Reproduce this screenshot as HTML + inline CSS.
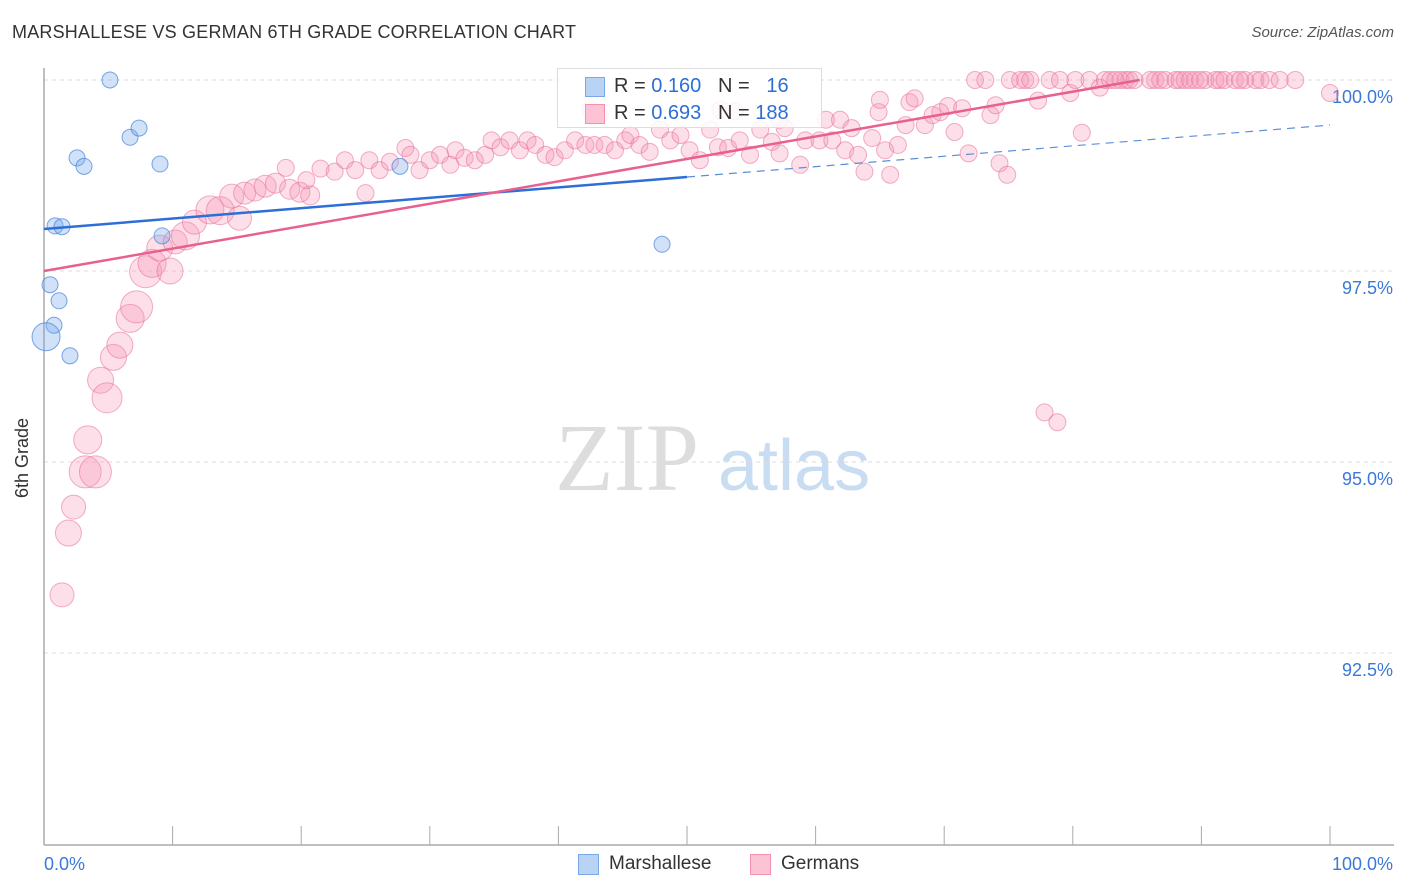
<!DOCTYPE html>
<html><head><meta charset="utf-8"><style>
body{margin:0;background:#fff;font-family:"Liberation Sans",sans-serif;}
#wrap{position:relative;width:1406px;height:892px;overflow:hidden;}
.t{position:absolute;white-space:nowrap;}
</style></head><body>
<div id="wrap">
<div class="t" style="left:12px;top:22px;font-size:18px;color:#333;letter-spacing:0.2px">MARSHALLESE VS GERMAN 6TH GRADE CORRELATION CHART</div>
<div class="t" style="right:12px;top:24px;font-size:15px;color:#555;font-style:italic">Source: ZipAtlas.com</div>
<svg id="svg" width="1406" height="892" style="position:absolute;left:0;top:0">
<text x="555" y="490" font-family="Liberation Serif,serif" font-size="96" fill="#ddd">ZIP</text>
<text x="718" y="490" font-family="Liberation Sans,sans-serif" font-size="72" fill="#c8dcf2">atlas</text>
<g id="grid"></g><g id="axes"></g><g id="pts"></g><g id="lines"></g>
<text x="28" y="458" transform="rotate(-90 28 458)" text-anchor="middle" font-size="18" fill="#333">6th Grade</text>
</svg>
<div style="position:absolute;left:557px;top:68px;width:263px;height:58px;border:1px solid #ddd;background:rgba(255,255,255,0.85);font-size:20px">
<div style="position:absolute;left:27px;top:8px;width:18px;height:18px;background:#b9d3f5;border:1px solid #7aa8e6"></div>
<div class="t" style="left:56px;top:6px;color:#333">R = <span style="color:#2d6fd6">0.160</span>&nbsp;&nbsp;&nbsp;N = &nbsp;&nbsp;<span style="color:#2d6fd6">16</span></div>
<div style="position:absolute;left:27px;top:35px;width:18px;height:18px;background:#fbc3d4;border:1px solid #f291b0"></div>
<div class="t" style="left:56px;top:33px;color:#333">R = <span style="color:#2d6fd6">0.693</span>&nbsp;&nbsp;&nbsp;N = <span style="color:#2d6fd6">188</span></div>
</div>
<div style="position:absolute;left:578px;top:854px;width:19px;height:19px;background:#b9d3f5;border:1px solid #7aa8e6"></div>
<div class="t" style="left:609px;top:853px;font-size:19px;color:#333">Marshallese</div>
<div style="position:absolute;left:750px;top:854px;width:19px;height:19px;background:#fbc3d4;border:1px solid #f291b0"></div>
<div class="t" style="left:781px;top:853px;font-size:19px;color:#333">Germans</div>
</div>
<script>
const yTicks=[100,97.5,95,92.5];
const yTickLabels=["100.0%","97.5%","95.0%","92.5%"];
const xTickLabels=["0.0%","100.0%"];
const blueX=[5.13,6.69,7.39,9.02,2.57,3.11,0.86,1.40,9.18,27.68,48.06,0.47,1.17,0.78,0.16,2.02];
const blueY=[100,99.25,99.37,98.90,98.98,98.87,98.09,98.08,97.96,98.87,97.85,97.32,97.11,96.79,96.64,96.39];
const blueSize=[8,8,8,8,8,8,8,8,8,8,8,8,8,8,14,8];
const pinkX=[1.4,1.9,2.3,3.4,3.2,4.0,4.4,4.9,5.4,5.9,6.7,7.2,7.9,8.4,9.8,9.0,10.2,11.0,11.7,12.9,13.7,15.2,14.6,15.6,16.4,17.2,18.0,19.1,19.9,20.7,18.8,20.4,21.5,22.6,23.4,24.2,25.0,25.3,26.1,26.9,28.1,28.5,29.2,30.0,30.8,31.6,32.0,32.7,33.5,34.3,34.8,35.5,36.2,37.0,37.6,38.2,39.0,39.7,40.5,41.3,42.1,42.8,43.6,44.4,45.2,45.6,46.3,47.1,47.9,48.7,49.5,50.2,51.0,51.8,52.4,53.2,53.7,54.1,54.9,55.7,56.6,57.2,57.6,58.8,59.2,60.3,60.8,61.3,61.9,62.3,62.8,63.3,63.8,64.4,64.9,65.4,65.8,66.4,67.0,67.3,67.7,68.5,69.1,69.7,70.3,70.8,71.4,71.9,72.4,73.2,73.6,74.0,74.3,75.1,75.9,76.3,76.7,77.3,78.2,79.0,79.8,80.2,80.7,81.3,82.1,82.5,82.9,83.7,84.1,84.4,84.8,86.0,86.4,86.8,87.2,88.0,88.3,88.7,89.1,89.5,90.3,91.1,91.4,91.8,92.6,93.4,94.2,94.6,95.3,96.1,97.3,100,77.8,78.8,74.9,42.5,43.2,52.6,57.2,65.0,83.3,89.9,93.0];
const pinkY=[93.26,94.07,94.41,95.29,94.87,94.87,96.07,95.84,96.37,96.53,96.88,97.03,97.49,97.60,97.50,97.80,97.88,97.96,98.14,98.30,98.29,98.19,98.48,98.52,98.56,98.61,98.65,98.57,98.53,98.49,98.85,98.69,98.84,98.80,98.95,98.82,98.52,98.95,98.82,98.93,99.11,99.02,98.82,98.95,99.02,98.89,99.08,98.98,98.95,99.02,99.21,99.12,99.21,99.08,99.21,99.15,99.02,98.99,99.08,99.21,99.15,99.15,99.15,99.08,99.21,99.28,99.15,99.06,99.35,99.21,99.28,99.08,98.95,99.35,99.12,99.11,99.59,99.21,99.02,99.35,99.19,99.04,99.37,98.89,99.21,99.21,99.48,99.21,99.48,99.08,99.37,99.02,98.80,99.24,99.58,99.08,98.76,99.15,99.41,99.71,99.76,99.41,99.54,99.58,99.66,99.32,99.63,99.04,100,100,99.54,99.67,98.91,100,100,100,100,99.73,100,100,99.83,100,99.31,100,99.90,100,100,100,100,100,100,100,100,100,100,100,100,100,100,100,100,100,100,100,100,100,100,100,100,100,100,99.83,95.65,95.52,98.76,99.61,99.54,99.61,99.48,99.74,100,100,100];
const pinkSize=[12,13,12,14,16,16,13,15,13,13,14,16,16,14,13,13,12,14,12,14,14,12,12,11,11,11,10,10,10,9.5];
const blueTrend=[98.05,99.41];
const blueSolidEnd=50;
const pinkTrend=[97.5,100.434];
const pinkEnd=85.2;
const NS='http://www.w3.org/2000/svg';
const X0=44,X1=1330,Y100=80,PX_PER=76.4;
function sx(v){return X0+(X1-X0)*v/100;}
function sy(v){return Y100+(100-v)*PX_PER;}
function mk(tag,attrs,parent){const e=document.createElementNS(NS,tag);for(const k in attrs)e.setAttribute(k,attrs[k]);parent.appendChild(e);return e;}
const grid=document.getElementById('grid'),axes=document.getElementById('axes'),pts=document.getElementById('pts'),lines=document.getElementById('lines'),svg=document.getElementById('svg');
yTicks.forEach((v,i)=>{
 const l=mk('line',{x1:44,x2:1394,y1:sy(v),y2:sy(v),stroke:'#ddd','stroke-dasharray':'4,4'},grid);
 
 
 const t=mk('text',{x:1393,y:sy(v)+23,'text-anchor':'end','font-size':18,fill:'#3b78d8'},axes);
 t.textContent=yTickLabels[i];
 
 
});
const ya=mk('line',{x1:44,x2:44,y1:68,y2:845,stroke:'#aaa','stroke-width':1.5},axes);


const xa=mk('line',{x1:44,x2:1394,y1:845,y2:845,stroke:'#aaa','stroke-width':1.5},axes);


for(let i=0;i<=10;i++){const tk=mk('line',{x1:sx(i*10),x2:sx(i*10),y1:826,y2:845,stroke:'#aaa'},axes);
 
 }
[[0,'start',44],[100,'end',1393]].forEach((a,i)=>{const t=mk('text',{x:a[2],y:870,'text-anchor':a[1],'font-size':18,fill:'#3b78d8'},axes);t.textContent=xTickLabels[i];
 
 });
pinkX.forEach((x,i)=>{const r=pinkSize[i]||8.5;
 const c=mk('circle',{cx:sx(x),cy:sy(pinkY[i]),r:r,fill:'rgba(244,150,180,0.3)',stroke:'rgba(232,110,150,0.55)','stroke-width':1},pts);
 
 });
blueX.forEach((x,i)=>{
 const c=mk('circle',{cx:sx(x),cy:sy(blueY[i]),r:blueSize[i],fill:'rgba(120,170,235,0.35)',stroke:'rgba(70,130,220,0.7)','stroke-width':1},pts);
 
 });
const bAt=x=>blueTrend[0]+(blueTrend[1]-blueTrend[0])*x/100;
const pAt=x=>pinkTrend[0]+(pinkTrend[1]-pinkTrend[0])*x/100;
let l=mk('line',{x1:sx(0),y1:sy(bAt(0)),x2:sx(blueSolidEnd),y2:sy(bAt(blueSolidEnd)),stroke:'#2d6fd6','stroke-width':2.5},lines);


l=mk('line',{x1:sx(blueSolidEnd),y1:sy(bAt(blueSolidEnd)),x2:sx(100),y2:sy(bAt(100)),stroke:'#5b8fd9','stroke-width':1.2,'stroke-dasharray':'8,6'},lines);


l=mk('line',{x1:sx(0),y1:sy(pAt(0)),x2:sx(pinkEnd),y2:sy(pAt(pinkEnd)),stroke:'#e8608e','stroke-width':2.5},lines);


</script>
</body></html>
